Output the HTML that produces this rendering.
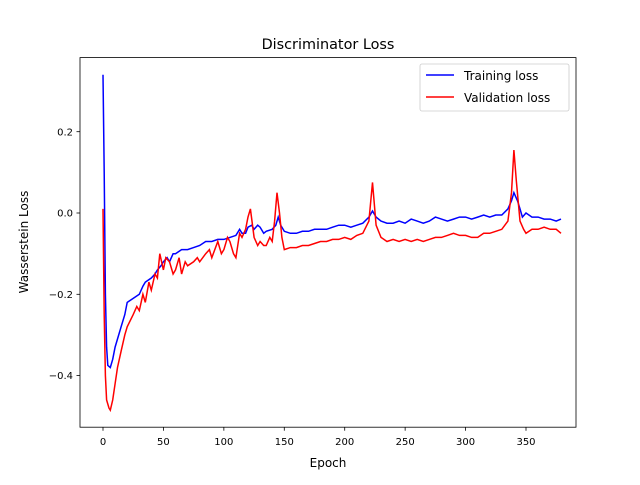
<!DOCTYPE html>
<html><head><meta charset="utf-8"><style>
body{margin:0;background:#fff;font-family:"Liberation Sans","DejaVu Sans",sans-serif}
svg text{font-family:"DejaVu Sans","Liberation Sans",sans-serif}
</style></head><body>
<svg id="chart" width="640" height="480" xmlns="http://www.w3.org/2000/svg">
<rect width="640" height="480" fill="#fff"/>
<text x="328" y="49" font-size="14.4" text-anchor="middle">Discriminator Loss</text>
<g id="plot"></g>
<rect x="80" y="57.6" width="496" height="369.6" fill="none" stroke="#000" stroke-width="0.8"/>
<g id="ticks"></g>
<text x="328" y="467" font-size="12" text-anchor="middle">Epoch</text>
<text transform="translate(28,242) rotate(-90)" font-size="12" text-anchor="middle">Wasserstein Loss</text>
<g>
<rect x="420" y="64" width="149" height="47" rx="2" fill="#fff" fill-opacity="0.8" stroke="#ccc" stroke-width="0.8"/>
<line x1="426" y1="75" x2="454" y2="75" stroke="blue" stroke-width="1.5"/>
<text x="464" y="80" font-size="12">Training loss</text>
<line x1="426" y1="97" x2="454" y2="97" stroke="red" stroke-width="1.5"/>
<text x="464" y="102" font-size="12">Validation loss</text>
</g>
</svg>
<script>
const xTicks=[0,50,100,150,200,250,300,350];
const yTicks=[-0.4,-0.2,0,0.2];
const yTickLabels=["\u22120.4","\u22120.2","0.0","0.2"];
const trainEpochs=[0,1,2,3,4,6,8,10,12,15,18,20,25,30,33,35,40,43,45,48,50,53,55,58,60,65,70,75,80,85,90,95,100,105,110,113,115,118,120,123,125,128,130,133,135,140,143,145,147,150,155,160,165,170,175,180,185,190,195,200,205,210,215,220,223,226,230,235,240,245,250,255,260,265,270,275,280,285,290,295,300,305,310,315,320,325,330,335,338,340,343,345,347,350,355,360,365,370,375,379];
const trainLoss=[0.34,0.1,-0.2,-0.33,-0.375,-0.38,-0.36,-0.33,-0.31,-0.28,-0.25,-0.22,-0.21,-0.2,-0.18,-0.17,-0.16,-0.15,-0.14,-0.13,-0.12,-0.11,-0.12,-0.1,-0.1,-0.09,-0.09,-0.085,-0.08,-0.07,-0.07,-0.065,-0.065,-0.06,-0.055,-0.04,-0.05,-0.05,-0.035,-0.03,-0.04,-0.03,-0.035,-0.05,-0.045,-0.04,-0.03,-0.01,-0.03,-0.045,-0.05,-0.05,-0.045,-0.045,-0.04,-0.04,-0.04,-0.035,-0.03,-0.03,-0.035,-0.03,-0.025,-0.01,0.005,-0.01,-0.02,-0.025,-0.025,-0.02,-0.025,-0.015,-0.02,-0.025,-0.02,-0.01,-0.015,-0.02,-0.015,-0.01,-0.01,-0.015,-0.01,-0.005,-0.01,-0.005,-0.005,0.01,0.03,0.05,0.03,0.01,-0.01,0.0,-0.01,-0.01,-0.015,-0.015,-0.02,-0.015];
const valEpochs=[0,1,2,3,5,6,8,10,12,15,18,20,25,28,30,33,35,38,40,43,45,47,50,52,55,58,60,63,65,68,70,75,78,80,85,88,90,95,98,100,103,105,108,110,113,115,118,120,122,125,128,130,133,135,138,140,142,144,146,148,150,155,160,165,170,175,180,185,190,195,200,205,210,215,220,223,226,230,235,240,245,250,255,260,265,270,275,280,285,290,295,300,305,310,315,320,325,330,335,338,340,342,345,348,350,355,360,365,370,375,379];
const valLoss=[0.01,-0.25,-0.4,-0.46,-0.48,-0.485,-0.46,-0.42,-0.38,-0.34,-0.3,-0.28,-0.25,-0.23,-0.24,-0.2,-0.22,-0.17,-0.19,-0.15,-0.16,-0.1,-0.14,-0.11,-0.12,-0.15,-0.14,-0.11,-0.15,-0.12,-0.13,-0.12,-0.11,-0.12,-0.1,-0.09,-0.11,-0.07,-0.1,-0.09,-0.06,-0.07,-0.1,-0.11,-0.05,-0.06,-0.04,-0.01,0.01,-0.06,-0.08,-0.07,-0.08,-0.08,-0.06,-0.07,-0.02,0.05,0.0,-0.06,-0.09,-0.085,-0.085,-0.08,-0.08,-0.075,-0.07,-0.07,-0.065,-0.065,-0.06,-0.065,-0.055,-0.05,-0.02,0.075,-0.03,-0.06,-0.07,-0.065,-0.07,-0.065,-0.07,-0.065,-0.07,-0.065,-0.06,-0.06,-0.055,-0.05,-0.055,-0.055,-0.06,-0.06,-0.05,-0.05,-0.045,-0.04,-0.02,0.05,0.155,0.08,-0.02,-0.04,-0.05,-0.04,-0.04,-0.035,-0.04,-0.04,-0.05];
const X=v=>103+v*(423/350);
const Y=v=>213-v*406.5;
const NS="http://www.w3.org/2000/svg";
const plot=document.getElementById('plot'),ticks=document.getElementById('ticks');
function line(ex,ey,color,name){
  const p=document.createElementNS(NS,'polyline');
  p.setAttribute('points',ex.map((e,i)=>X(e).toFixed(1)+','+Y(ey[i]).toFixed(1)).join(' '));
  p.setAttribute('fill','none');p.setAttribute('stroke',color);p.setAttribute('stroke-width','1.5');
  
  
  plot.appendChild(p);
}
line(trainEpochs,trainLoss,'blue','training-loss-line');
line(valEpochs,valLoss,'red','validation-loss-line');
xTicks.forEach(t=>{
  const l=document.createElementNS(NS,'line');
  l.setAttribute('x1',X(t));l.setAttribute('x2',X(t));l.setAttribute('y1',427.2);l.setAttribute('y2',430.7);l.setAttribute('stroke','#000');l.setAttribute('stroke-width','0.8');
  
  
  ticks.appendChild(l);
  const s=document.createElementNS(NS,'text');
  s.setAttribute('x',X(t));s.setAttribute('y',445);s.setAttribute('font-size','10');s.setAttribute('text-anchor','middle');s.textContent=t;
  
  
  ticks.appendChild(s);
});
yTicks.forEach((t,i)=>{
  const l=document.createElementNS(NS,'line');
  l.setAttribute('x1',76.5);l.setAttribute('x2',80);l.setAttribute('y1',Y(t));l.setAttribute('y2',Y(t));l.setAttribute('stroke','#000');l.setAttribute('stroke-width','0.8');
  
  
  ticks.appendChild(l);
  const s=document.createElementNS(NS,'text');
  s.setAttribute('x',73);s.setAttribute('y',Y(t)+3.6);s.setAttribute('font-size','10');s.setAttribute('text-anchor','end');s.textContent=yTickLabels[i];
  
  
  ticks.appendChild(s);
});
</script>
</body></html>
